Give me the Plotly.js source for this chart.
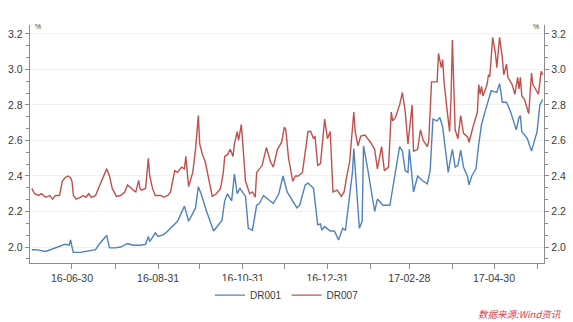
<!DOCTYPE html>
<html>
<head>
<meta charset="utf-8">
<script src="https://cdn.plot.ly/plotly-3.0.1.min.js"></script>
<style>html,body{margin:0;padding:0;background:#fff;}#chart{width:573px;height:322px;}</style>
</head>
<body>
<div id="chart"></div>
<script>
// DR001 series (date, %)
const dr001Dates = ['2016-06-01','2016-06-04','2016-06-11','2016-06-16','2016-06-20','2016-06-25','2016-06-28','2016-06-29','2016-06-30','2016-07-01','2016-07-06','2016-07-12','2016-07-17','2016-07-20','2016-07-24','2016-07-25','2016-07-27','2016-07-31','2016-08-04','2016-08-09','2016-08-13','2016-08-18','2016-08-22','2016-08-24','2016-08-25','2016-08-29','2016-08-31','2016-09-04','2016-09-07','2016-09-14','2016-09-19','2016-09-22','2016-09-27','2016-09-29','2016-10-01','2016-10-05','2016-10-10','2016-10-13','2016-10-16','2016-10-18','2016-10-20','2016-10-23','2016-10-25','2016-10-27','2016-10-29','2016-11-02','2016-11-04','2016-11-07','2016-11-10','2016-11-12','2016-11-15','2016-11-18','2016-11-22','2016-11-26','2016-11-29','2016-12-02','2016-12-06','2016-12-09','2016-12-11','2016-12-15','2016-12-17','2016-12-21','2016-12-24','2016-12-26','2016-12-27','2016-12-29','2017-01-02','2017-01-05','2017-01-08','2017-01-11','2017-01-13','2017-01-15','2017-01-18','2017-01-19','2017-01-21','2017-01-23','2017-01-25','2017-01-26','2017-01-29','2017-02-01','2017-02-03','2017-02-05','2017-02-09','2017-02-14','2017-02-18','2017-02-21','2017-02-23','2017-02-25','2017-02-27','2017-02-28','2017-03-03','2017-03-06','2017-03-10','2017-03-13','2017-03-15','2017-03-17','2017-03-20','2017-03-22','2017-03-24','2017-03-28','2017-03-30','2017-03-31','2017-04-02','2017-04-04','2017-04-06','2017-04-08','2017-04-11','2017-04-12','2017-04-14','2017-04-17','2017-04-19','2017-04-21','2017-04-24','2017-04-26','2017-04-28','2017-04-30','2017-05-02','2017-05-04','2017-05-06','2017-05-09','2017-05-12','2017-05-14','2017-05-16','2017-05-18','2017-05-19','2017-05-20','2017-05-24','2017-05-27','2017-05-31','2017-06-02','2017-06-04'];
const dr001 = [1.985,1.985,1.975,1.99,2.0,2.015,2.01,2.04,2.0,1.97,1.97,1.98,1.985,2.02,2.055,2.065,1.995,1.995,2.0,2.02,2.01,2.01,2.015,2.06,2.03,2.08,2.06,2.07,2.09,2.145,2.23,2.145,2.22,2.34,2.30,2.20,2.09,2.12,2.15,2.26,2.30,2.26,2.41,2.30,2.33,2.285,2.105,2.095,2.235,2.245,2.29,2.27,2.245,2.30,2.40,2.31,2.26,2.22,2.235,2.35,2.36,2.33,2.125,2.13,2.095,2.115,2.09,2.09,2.04,2.105,2.095,2.22,2.42,2.555,2.345,2.105,2.145,2.57,2.44,2.31,2.20,2.27,2.235,2.235,2.43,2.565,2.54,2.43,2.42,2.55,2.31,2.40,2.37,2.355,2.43,2.72,2.71,2.73,2.675,2.42,2.51,2.55,2.45,2.46,2.545,2.45,2.395,2.35,2.40,2.44,2.58,2.69,2.775,2.83,2.88,2.875,2.87,2.92,2.815,2.815,2.76,2.71,2.66,2.73,2.74,2.65,2.61,2.54,2.65,2.80,2.83];

// DR007 series (date, %)
const dr007Dates = ['2016-06-01','2016-06-03','2016-06-06','2016-06-08','2016-06-11','2016-06-14','2016-06-16','2016-06-18','2016-06-21','2016-06-23','2016-06-25','2016-06-27','2016-06-29','2016-06-30','2016-07-01','2016-07-03','2016-07-06','2016-07-08','2016-07-10','2016-07-12','2016-07-14','2016-07-17','2016-07-19','2016-07-21','2016-07-23','2016-07-25','2016-07-27','2016-07-29','2016-08-01','2016-08-04','2016-08-07','2016-08-09','2016-08-12','2016-08-13','2016-08-15','2016-08-17','2016-08-18','2016-08-19','2016-08-22','2016-08-24','2016-08-25','2016-08-27','2016-08-29','2016-08-31','2016-09-02','2016-09-04','2016-09-07','2016-09-09','2016-09-12','2016-09-14','2016-09-17','2016-09-19','2016-09-20','2016-09-22','2016-09-25','2016-09-27','2016-09-29','2016-09-30','2016-10-02','2016-10-04','2016-10-06','2016-10-09','2016-10-12','2016-10-15','2016-10-17','2016-10-18','2016-10-20','2016-10-22','2016-10-24','2016-10-25','2016-10-27','2016-10-28','2016-10-30','2016-11-02','2016-11-05','2016-11-07','2016-11-09','2016-11-10','2016-11-14','2016-11-17','2016-11-20','2016-11-22','2016-11-25','2016-11-28','2016-11-30','2016-12-01','2016-12-03','2016-12-06','2016-12-08','2016-12-10','2016-12-13','2016-12-15','2016-12-17','2016-12-19','2016-12-21','2016-12-22','2016-12-24','2016-12-26','2016-12-29','2016-12-31','2017-01-02','2017-01-04','2017-01-07','2017-01-10','2017-01-12','2017-01-14','2017-01-16','2017-01-19','2017-01-20','2017-01-22','2017-01-24','2017-01-27','2017-01-31','2017-02-03','2017-02-05','2017-02-08','2017-02-10','2017-02-13','2017-02-15','2017-02-16','2017-02-18','2017-02-21','2017-02-23','2017-02-25','2017-02-27','2017-03-02','2017-03-03','2017-03-06','2017-03-08','2017-03-10','2017-03-13','2017-03-14','2017-03-16','2017-03-19','2017-03-20','2017-03-21','2017-03-23','2017-03-24','2017-03-25','2017-03-27','2017-03-29','2017-03-30','2017-03-31','2017-04-02','2017-04-04','2017-04-06','2017-04-08','2017-04-11','2017-04-12','2017-04-15','2017-04-18','2017-04-19','2017-04-20','2017-04-21','2017-04-22','2017-04-25','2017-04-26','2017-04-27','2017-04-29','2017-05-01','2017-05-02','2017-05-04','2017-05-06','2017-05-07','2017-05-09','2017-05-10','2017-05-13','2017-05-15','2017-05-17','2017-05-18','2017-05-19','2017-05-20','2017-05-22','2017-05-25','2017-05-27','2017-05-28','2017-05-31','2017-06-01','2017-06-03','2017-06-04'];
const dr007 = [2.33,2.30,2.29,2.30,2.28,2.29,2.27,2.29,2.29,2.37,2.39,2.40,2.39,2.37,2.29,2.27,2.28,2.29,2.28,2.30,2.28,2.29,2.33,2.37,2.40,2.44,2.40,2.33,2.285,2.29,2.31,2.35,2.33,2.32,2.31,2.375,2.33,2.32,2.33,2.50,2.40,2.33,2.29,2.29,2.29,2.28,2.29,2.31,2.43,2.42,2.45,2.44,2.51,2.34,2.42,2.55,2.74,2.58,2.52,2.48,2.40,2.285,2.30,2.33,2.42,2.51,2.52,2.55,2.51,2.58,2.65,2.60,2.69,2.37,2.30,2.31,2.28,2.42,2.46,2.56,2.48,2.45,2.55,2.59,2.675,2.66,2.50,2.37,2.40,2.40,2.42,2.535,2.65,2.65,2.61,2.625,2.46,2.47,2.72,2.61,2.65,2.31,2.32,2.285,2.31,2.40,2.48,2.76,2.65,2.57,2.625,2.63,2.59,2.55,2.44,2.565,2.43,2.45,2.76,2.71,2.73,2.80,2.87,2.765,2.58,2.80,2.54,2.55,2.66,2.60,2.565,2.60,2.93,2.93,2.93,3.09,3.01,3.055,2.93,2.785,2.65,2.83,3.165,2.66,2.61,2.74,2.64,2.62,2.59,2.68,2.76,2.915,2.86,2.905,2.85,2.915,2.97,2.96,3.18,3.09,3.01,3.18,3.065,2.97,3.03,2.955,2.915,2.86,2.955,2.89,2.955,2.85,2.83,2.75,2.98,2.915,2.875,2.86,2.99,2.97];

// Axis ticks
const xTickVals = ['2016-06-30','2016-07-31','2016-08-31','2016-09-30','2016-10-31','2016-11-30','2016-12-31','2017-01-31','2017-02-28','2017-03-31','2017-04-30','2017-05-31'];
const xTickText = ['16-06-30','','16-08-31','','16-10-31','','16-12-31','','17-02-28','','17-04-30',''];
const yTickVals = [2.0,2.2,2.4,2.6,2.8,3.0,3.2];
const yTickText = ['2.0','2.2','2.4','2.6','2.8','3.0','3.2'];

const axisColor = '#8c8c8c';
const tickFont = {family: 'Liberation Sans, Arial, sans-serif', size: 10.5, color: '#3a3a3a'};
const yRange = [1.91, 3.25];

const traces = [
  {x: dr001Dates, y: dr001, name: 'DR001', type: 'scatter', mode: 'lines',
   line: {color: '#4f81bd', width: 1.4}},
  {x: dr007Dates, y: dr007, name: 'DR007', type: 'scatter', mode: 'lines',
   line: {color: '#c0504d', width: 1.4}}
];

const yCommon = {
  range: yRange, tickmode: 'array', tickvals: yTickVals, ticktext: yTickText,
  ticks: 'outside', ticklen: 4, tickcolor: axisColor, tickwidth: 1,
  showline: true, linecolor: axisColor, linewidth: 1.2,
  tickfont: tickFont, zeroline: false, fixedrange: true,
  minor: {dtick: 0.2/3, tick0: 2.0, ticks: 'outside', ticklen: 3, tickcolor: axisColor, showgrid: false}
};

const layout = {
  width: 573, height: 322,
  margin: {l: 30, r: 29, t: 25, b: 57},
  paper_bgcolor: '#ffffff', plot_bgcolor: '#ffffff',
  showlegend: true,
  legend: {orientation: 'h', x: 0.5, xanchor: 'center', y: -0.135, yanchor: 'middle',
           font: {family: 'Liberation Sans, Arial, sans-serif', size: 10, color: '#3a3a3a'},
           itemwidth: 30, tracegroupgap: 0},
  xaxis: {
    type: 'date', range: ['2016-05-30 18:00', '2017-06-05'],
    tickmode: 'array', tickvals: xTickVals, ticktext: xTickText,
    ticks: 'outside', ticklen: 5, tickcolor: axisColor,
    showline: true, linecolor: axisColor, linewidth: 1.2,
    showgrid: false, zeroline: false, tickfont: tickFont, tickangle: 0
  },
  yaxis: Object.assign({}, yCommon, {side: 'left', showgrid: true, gridcolor: '#f0f0f0', gridwidth: 1}),
  yaxis2: Object.assign({}, yCommon, {side: 'right', overlaying: 'y', showgrid: false}),
  annotations: [
    {text: '%', xref: 'paper', yref: 'paper', x: 0.006, y: 0.995, xanchor: 'left', yanchor: 'middle',
     showarrow: false, font: {family: 'Liberation Sans, Arial, sans-serif', size: 7, color: '#3a3a3a'}},
    {text: '%', xref: 'paper', yref: 'paper', x: 0.994, y: 0.995, xanchor: 'right', yanchor: 'middle',
     showarrow: false, font: {family: 'Liberation Sans, Arial, sans-serif', size: 7, color: '#3a3a3a'}},
    {text: '<i>数据来源:Wind资讯</i>', xref: 'paper', yref: 'paper', x: 1.037, y: -0.2125,
     xanchor: 'right', yanchor: 'middle', showarrow: false,
     font: {family: 'Noto Sans CJK SC, sans-serif', size: 9.5, color: '#d2404e'}}
  ]
};

// DR007 drawn against the right-hand axis (identical fixed range)
traces[1].yaxis = 'y2';

Plotly.newPlot('chart', traces, layout, {displayModeBar: false, staticPlot: true});
</script>
</body>
</html>
